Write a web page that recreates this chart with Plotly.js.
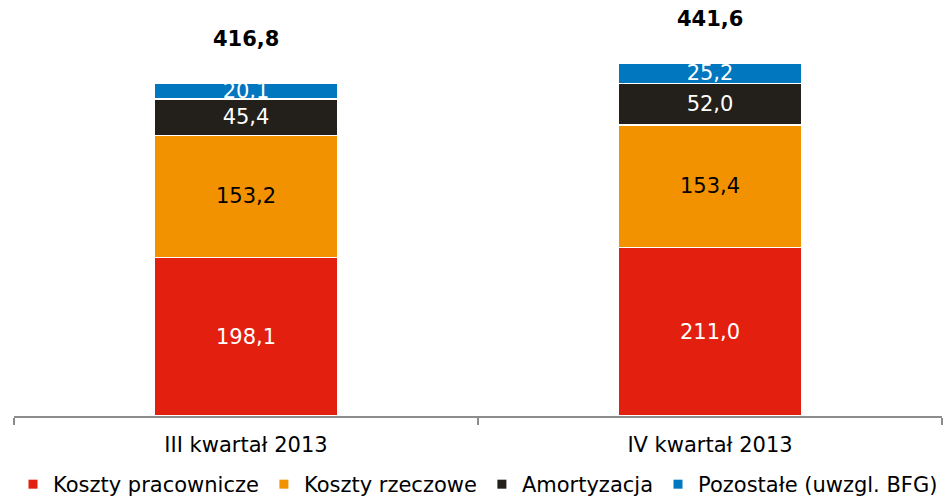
<!DOCTYPE html>
<html>
<head>
<meta charset="utf-8">
<script src="https://cdn.plot.ly/plotly-3.0.1.min.js"></script>
<style>html,body{margin:0;padding:0;background:#fff;}#chart{width:943px;height:499px;}</style>
</head>
<body>
<div id="chart"></div>
<script>
var categories = ["III kwartał 2013", "IV kwartał 2013"];
var seriesNames = ["Koszty pracownicze", "Koszty rzeczowe", "Amortyzacja", "Pozostałe (uwzgl. BFG)"];
var kosztyPracownicze = [198.1, 211.0];
var kosztyRzeczowe = [153.2, 153.4];
var amortyzacja = [45.4, 52.0];
var pozostale = [20.1, 25.2];

var seriesValues = [kosztyPracownicze, kosztyRzeczowe, amortyzacja, pozostale];
var colors = ["#E3200F", "#F39200", "#231F1B", "#0077BF"];
var textColors = ["#FFFFFF", "#000000", "#FFFFFF", "#FFFFFF"];
var FONT = "DejaVu Sans, Verdana, sans-serif";
var FS = 21;

function fmt(v) { return v.toFixed(1).replace(".", ","); }

var traces = [];
seriesValues.forEach(function (vals, i) {
  traces.push({
    type: "bar",
    x: categories,
    y: vals,
    name: seriesNames[i],
    showlegend: false,
    marker: { color: colors[i], line: { color: "#FFFFFF", width: 1.5 } },
    text: vals.map(fmt),
    textposition: "inside",
    insidetextanchor: "middle",
    constraintext: "none",
    textfont: { family: FONT, size: FS, color: textColors[i] },
    hoverinfo: "skip"
  });
});
seriesValues.forEach(function (vals, i) {
  traces.push({
    type: "scatter",
    mode: "markers",
    x: [null],
    y: [null],
    name: seriesNames[i],
    marker: { symbol: "square", size: 9, color: colors[i] },
    showlegend: true,
    hoverinfo: "skip"
  });
});

var totals = categories.map(function (c, j) {
  return seriesValues.reduce(function (s, arr) { return s + arr[j]; }, 0);
});
var annotations = categories.map(function (c, j) {
  return {
    x: c, y: totals[j], xref: "x", yref: "y",
    text: "<b>" + fmt(totals[j]) + "</b>",
    showarrow: false, yanchor: "bottom", yshift: 30,
    font: { family: FONT, size: FS, color: "#000000" }
  };
});

var layout = {
  width: 943, height: 499,
  margin: { l: 14, r: 1, t: 0, b: 83, autoexpand: false },
  paper_bgcolor: "#FFFFFF", plot_bgcolor: "#FFFFFF",
  barmode: "stack",
  bargap: 0.603,
  font: { family: FONT, size: FS, color: "#000000" },
  xaxis: {
    type: "category", automargin: false,
    showline: true, linecolor: "#8C8C8C", linewidth: 1.5,
    ticks: "outside", tickson: "boundaries", ticklen: 7, tickcolor: "#8C8C8C", tickwidth: 1.5,
    ticklabelstandoff: 9,
    tickfont: { family: FONT, size: FS, color: "#000000" },
    showgrid: false, zeroline: false
  },
  yaxis: { range: [0, 520.6], visible: false, showgrid: false, zeroline: false, automargin: false },
  showlegend: true,
  legend: {
    orientation: "h", x: 0.5, xanchor: "center", xref: "paper",
    yref: "container", y: 0.029, yanchor: "middle",
    font: { family: FONT, size: FS, color: "#000000" },
    traceorder: "normal", itemwidth: 30, bgcolor: "rgba(0,0,0,0)"
  },
  annotations: annotations
};

Plotly.newPlot("chart", traces, layout, { displayModeBar: false, staticPlot: true });
</script>
</body>
</html>
